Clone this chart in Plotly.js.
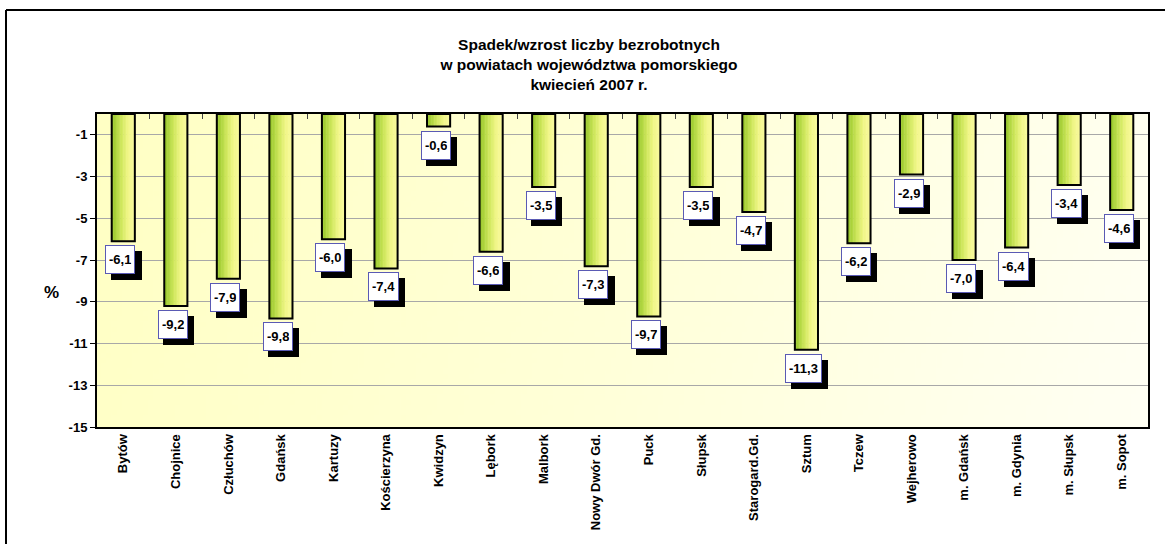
<!DOCTYPE html>
<html>
<head>
<meta charset="utf-8">
<script src="https://cdn.plot.ly/plotly-3.0.1.min.js"></script>
<style>html,body{margin:0;padding:0;background:#fff;}#chart{width:1165px;height:544px;}</style>
</head>
<body>
<div id="chart"></div>
<script>
const categories = ["Bytów","Chojnice","Człuchów","Gdańsk","Kartuzy","Kościerzyna","Kwidzyn","Lębork","Malbork","Nowy Dwór Gd.","Puck","Słupsk","Starogard.Gd.","Sztum","Tczew","Wejherowo","m. Gdańsk","m. Gdynia","m. Słupsk","m. Sopot"];
const values = [-6.1,-9.2,-7.9,-9.8,-6.0,-7.4,-0.6,-6.6,-3.5,-7.3,-9.7,-3.5,-4.7,-11.3,-6.2,-2.9,-7.0,-6.4,-3.4,-4.6];
const yTickVals = [-1,-3,-5,-7,-9,-11,-13,-15];
const yTickText = ["-1","-3","-5","-7","-9","-11","-13","-15"];
const titleLines = ["Spadek/wzrost liczby bezrobotnych","w powiatach województwa pomorskiego","kwiecień 2007 r."];
const yLabel = "%";

const FONT = "Liberation Sans, Arial, Helvetica, sans-serif";
const xIdx = categories.map((_, i) => i);
const n = categories.length;

// background gradient image for plot area
const cv = document.createElement('canvas');
cv.width = 400; cv.height = 120;
const ctx = cv.getContext('2d');
const g = ctx.createLinearGradient(0, 0, 400, 120);
g.addColorStop(0, '#ffffc4');
g.addColorStop(0.5, '#ffffd8');
g.addColorStop(1, '#fffff4');
ctx.fillStyle = g;
ctx.fillRect(0, 0, 400, 120);
const bgSrc = cv.toDataURL('image/png');

// measure label text widths
ctx.font = 'bold 13px ' + FONT;

const traces = [];
// bar gradient via slices
const W = 0.44, N = 16;
const stops = [[0, [146,196,38]], [0.4, [205,230,90]], [0.7, [240,246,135]], [1, [250,250,160]]];
function colAt(t) {
  for (let i = 0; i < stops.length - 1; i++) {
    const [t0, c0] = stops[i], [t1, c1] = stops[i + 1];
    if (t <= t1) {
      const f = (t - t0) / (t1 - t0);
      return 'rgb(' + c0.map((v, j) => Math.round(v + (c1[j] - v) * f)).join(',') + ')';
    }
  }
  return 'rgb(250,250,160)';
}
for (let k = 0; k < N; k++) {
  traces.push({
    type: 'bar', x: xIdx, y: values,
    width: (W / N) * (k === N - 1 ? 1 : 1.3),
    offset: -W / 2 + k * W / N,
    marker: {color: colAt((k + 0.5) / N), line: {width: 0}},
    hoverinfo: 'skip', showlegend: false
  });
}
// outline
traces.push({
  type: 'bar', x: xIdx, y: values, width: W, offset: -W / 2,
  marker: {color: 'rgba(0,0,0,0)', line: {color: '#000', width: 2}},
  hoverinfo: 'skip', showlegend: false
});
// dummy for top tick axis
traces.push({type: 'scatter', mode: 'none', x: [0], y: [0], xaxis: 'x2', yaxis: 'y', hoverinfo: 'skip', showlegend: false});

const annotations = [];
const labelText = values.map(v => v.toFixed(1).replace('.', ','));
// shadows (text-free boxes)
values.forEach((v, i) => {
  const tw = Math.ceil(ctx.measureText(labelText[i]).width);
  annotations.push({
    x: i, y: v, xref: 'x', yref: 'y', text: '&nbsp;', showarrow: false,
    yanchor: 'top', xanchor: 'center', xshift: -3 + 6, yshift: -4 - 6,
    font: {family: FONT, size: 13, color: '#000'},
    width: tw, height: 21,
    bgcolor: '#000', bordercolor: '#000', borderwidth: 1, borderpad: 3
  });
});
values.forEach((v, i) => {
  annotations.push({
    x: i, y: v, xref: 'x', yref: 'y', text: labelText[i], showarrow: false,
    yanchor: 'top', xanchor: 'center', xshift: -3, yshift: -4,
    font: {family: FONT, size: 13, color: '#000', weight: 'bold'},
    bgcolor: '#fff', bordercolor: '#5a5ab4', borderwidth: 1, borderpad: 3, height: 21
  });
});
annotations.push({
  xref: 'paper', yref: 'paper', x: -0.043, y: 0.43, text: yLabel, showarrow: false,
  xanchor: 'center', yanchor: 'middle',
  font: {family: FONT, size: 17, color: '#000', weight: 'bold'}
});

const L = 97, R = 17, T = 114, B = 117;
const pw = 1165 - L - R, ph = 544 - T - B;
const shapes = [
  {type: 'line', xref: 'paper', yref: 'paper', x0: (6 - L) / pw, x1: (1175 - L) / pw, y0: (544 - B - 10) / ph, y1: (544 - B - 10) / ph, line: {color: '#000', width: 2}},
  {type: 'line', xref: 'paper', yref: 'paper', x0: (6 - L) / pw, x1: (6 - L) / pw, y0: (544 - B - 10) / ph, y1: -(B + 20) / ph, line: {color: '#000', width: 2}}
];

const layout = {
  width: 1165, height: 544,
  margin: {l: L, r: R, t: T, b: B},
  paper_bgcolor: '#fff', plot_bgcolor: '#ffffe0',
  barmode: 'overlay',
  showlegend: false,
  images: [{
    source: bgSrc, xref: 'paper', yref: 'paper', x: 0, y: 1, sizex: 1, sizey: 1,
    sizing: 'stretch', xanchor: 'left', yanchor: 'top', layer: 'below'
  }],
  title: {
    text: '<b>' + titleLines.join('<br>') + '</b>',
    font: {family: FONT, size: 15.5, color: '#000'},
    x: 589 / 1165, xanchor: 'center', xref: 'container',
    y: 1 - 50 / 544, yanchor: 'top', yref: 'container'
  },
  xaxis: {
    range: [-0.5, n - 0.5], tickvals: xIdx, ticktext: categories, tickangle: -90,
    tickfont: {family: FONT, size: 13, color: '#000', weight: 'bold'},
    showline: true, mirror: true, linecolor: '#000', linewidth: 2,
    ticks: '', showgrid: false, zeroline: false, fixedrange: true
  },
  xaxis2: {
    overlaying: 'x', anchor: 'y', side: 'top', range: [-0.5, n - 0.5],
    tickvals: xIdx.slice(0, n - 1).map(i => i + 0.5), ticks: 'inside', ticklen: 5,
    tickcolor: '#444', tickwidth: 1, showticklabels: false, showgrid: false,
    showline: false, zeroline: false, fixedrange: true
  },
  yaxis: {
    range: [-15, 0], tickvals: yTickVals, ticktext: yTickText,
    tickfont: {family: FONT, size: 13, color: '#000', weight: 'bold'},
    ticks: 'outside', ticklen: 5, tickcolor: '#000', tickwidth: 1,
    showline: true, mirror: true, linecolor: '#000', linewidth: 2,
    showgrid: true, gridcolor: '#a8a8a8', gridwidth: 1, zeroline: false, fixedrange: true
  },
  annotations: annotations,
  shapes: shapes
};

Plotly.newPlot('chart', traces, layout, {displayModeBar: false, staticPlot: true});
</script>
</body>
</html>
